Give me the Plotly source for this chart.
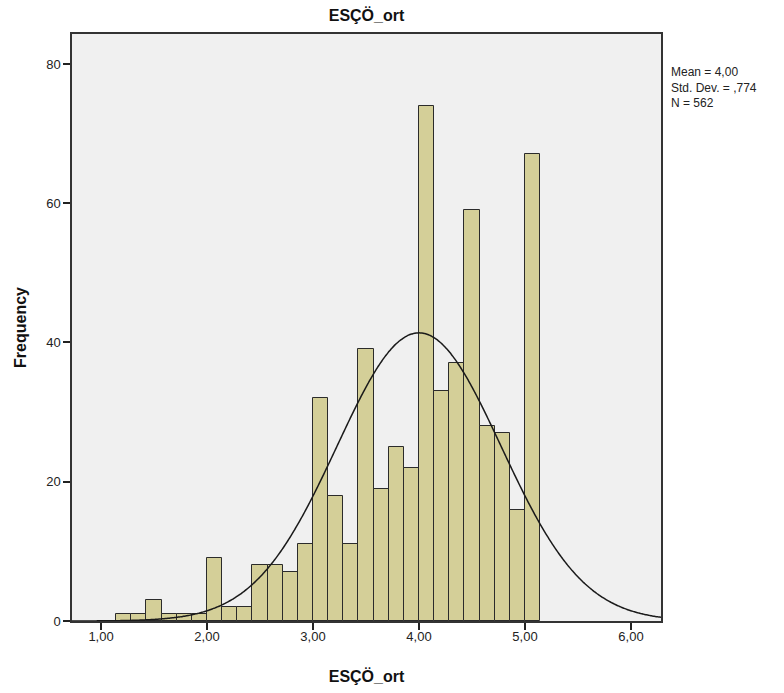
import numpy as np
import plotly.graph_objects as go

# ---- data ----
bin_width = 1 / 7
bin_lefts = [1 + k / 7 for k in range(1, 29)]  # bin left edges (1.143 ... 5.0)
counts = [1, 1, 3, 1, 1, 1, 9, 2, 2, 8, 8, 7, 11, 32, 18, 11, 39, 19, 25, 22,
          74, 33, 37, 59, 28, 27, 16, 67]
x_tick_vals = [1, 2, 3, 4, 5, 6]
x_tick_text = ["1,00", "2,00", "3,00", "4,00", "5,00", "6,00"]
y_tick_vals = [0, 20, 40, 60, 80]
mean_val = 4.00
std_val = 0.774
n_val = 562
title_text = "ESÇÖ_ort"

x_range = [0.726, 6.283]
y_range = [0, 84.3]

centers = [b + bin_width / 2 for b in bin_lefts]

fig = go.Figure()
fig.add_trace(go.Bar(
    x=centers, y=counts, width=[bin_width] * len(counts),
    marker=dict(color="#D4CF98", line=dict(color="#2b2b2b", width=1)),
    showlegend=False, hoverinfo="x+y",
))

xs = np.linspace(x_range[0], x_range[1], 400)
ys = n_val * bin_width * np.exp(-0.5 * ((xs - mean_val) / std_val) ** 2) / (std_val * np.sqrt(2 * np.pi))
fig.add_trace(go.Scatter(x=xs, y=ys, mode="lines",
                         line=dict(color="#1a1a1a", width=1.5, shape="spline"),
                         showlegend=False, hoverinfo="skip"))

W, H = 784, 693
L, T, R, B = 72, 34, 123, 72
font_family = "Liberation Sans, Arial, sans-serif"
fig.update_layout(
    width=W, height=H,
    margin=dict(l=L, r=R, t=T, b=B, autoexpand=False),
    paper_bgcolor="white", plot_bgcolor="#F0F0F0",
    font=dict(family=font_family, size=13, color="#222"),
    title=dict(text="<b>" + title_text + "</b>", x=366.5 / W, xanchor="center",
               y=1 - 15 / H, yanchor="middle", font=dict(size=16, color="#111")),
    bargap=0,
    xaxis=dict(range=x_range, tickvals=x_tick_vals, ticktext=x_tick_text,
               ticks="outside", ticklen=7, tickwidth=1.5, tickcolor="#222",
               ticklabelstandoff=-4, automargin=False,
               showgrid=False, zeroline=False,
               showline=True, linecolor="#333", linewidth=1.5, mirror=True,
               title=dict(text="<b>" + title_text + "</b>", font=dict(size=16, color="#111"), standoff=27),
               tickfont=dict(size=13, color="#222")),
    yaxis=dict(range=y_range, tickvals=y_tick_vals,
               ticks="outside", ticklen=7, tickwidth=1.5, tickcolor="#222",
               automargin=False,
               showgrid=False, zeroline=False,
               showline=True, linecolor="#333", linewidth=1.5, mirror=True,
               title=dict(text="<b>Frequency</b>", font=dict(size=16, color="#111"), standoff=16),
               tickfont=dict(size=13, color="#222")),
    annotations=[dict(
        text="Mean = 4,00<br>Std. Dev. = ,774<br>N = " + str(n_val),
        xref="paper", yref="paper", x=1.0, y=1 - 29 / 587, xanchor="left", yanchor="top",
        xshift=8, align="left", showarrow=False,
        font=dict(size=12, color="#222", family=font_family))],
)

fig.write_html("out.html", config={"displayModeBar": False},
               post_script="document.body.style.margin='0px';document.body.style.overflow='hidden';")
